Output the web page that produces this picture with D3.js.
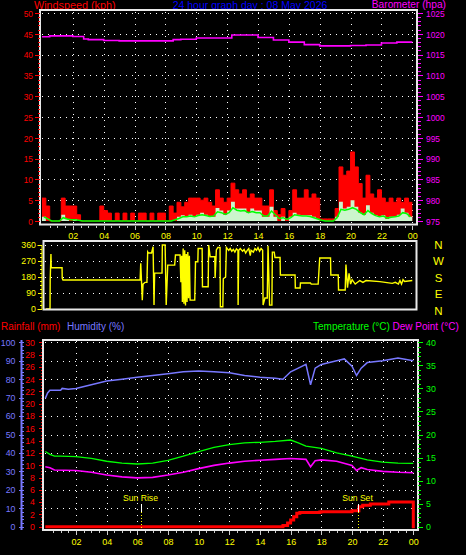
<!DOCTYPE html>
<html><head><meta charset="utf-8">
<script src="https://cdn.jsdelivr.net/npm/d3@7"></script>
<style>
body{margin:0;background:#000;}
svg{display:block;background:#000;}
</style>
</head><body>
<svg id="c" width="466" height="555"></svg>
<script>
const FONT = "'Liberation Sans', Arial, sans-serif";
// ---------- DATA ----------
const titleText = "24 hour graph day : 08 May 2026";
const hourLabels = ["02","04","06","08","10","12","14","16","18","20","22","00"];
const hourTicks = [2,4,6,8,10,12,14,16,18,20,22,24];
const windTicks = [0,5,10,15,20,25,30,35,40,45,50];
const baroTicks = [975,980,985,990,995,1000,1005,1010,1015,1020,1025];
const dirTicks = [0,90,180,270,360];
const dirLetters = ["N","W","S","E","N"];
const humTicks = [0,10,20,30,40,50,60,70,80,90,100];
const rainTicks = [0,2,4,6,8,10,12,14,16,18,20,22,24,26,28,30];
const tempTicks = [0,5,10,15,20,25,30,35,40];

// wind, one value per quarter hour (00:00 .. 23:45)
const windGust = [
5.5,3.6,0,0, 0,5.5,3.6,3.6, 3.6,1.5,0,0, 0,0,0,3.6,
2.5,1.9,0,1.9, 0,1.9,0,1.9, 0,1.9,1.9,0, 1.9,0,1.9,1.9,
0,3.6,1.9,4.5, 3.4,4.5,5.5,5.5, 5.5,5,5.5,4.5, 3.6,7.5,5.5,4.5,
5.5,9.1,7.5,6.5, 7.5,5.5,6.5,5.5, 5.5,3.6,3.6,7.5, 2.5,1.5,3,0.5,
2.5,7.5,5.5,5.5, 7.5,5.5,6.5,5.5, 0.5,0.5,0.5,0.5, 3,13,11,12,
16.6,13,9,5.5, 11,6.5,5.5,7.5, 5.5,4.5,5.5,4.5, 5.5,4.5,5.5,4.5];
const windSpeed = [
1,0,0,0, 0,1.5,0.5,0, 0.5,0,0,0, 0,0,0,0,
0,0,0,0, 0,0,0,0, 0,0,0,0, 0,0,0,0,
0,0,0,1, 1.4,1,1.5,1, 1.5,2,1.5,1, 1,3.1,2.5,1.5,
2.5,4.6,3,3, 3,2,3,2.5, 2.5,1,1,3.4, 1,0,1,0,
1,2,1.5,1.4, 1.4,1.4,1,0.5, 0,0,0,0, 1,4.6,3,3.4,
5,3.4,2,1.5, 3.8,2,1.4,1, 1.4,0.5,1,1, 1.5,3,2,1];
const windAvg = [
1,0.5,0,0, 0,0.8,0.5,0.3, 0.3,0.2,0,0, 0,0,0,0,
0,0,0,0, 0,0,0,0, 0,0,0,0, 0,0,0,0,
0,0,0.3,0.6, 1,1,1.2,1, 1.3,1.5,1.3,1.1, 1.2,2.2,2,1.6,
2,3.2,2.6,2.4, 2.5,2,2.3,2, 2,1.2,1.2,2.4, 1.5,0.6,0.8,0.4,
0.8,1.5,1.3,1.2, 1.2,1.1,0.8,0.5, 0.2,0,0,0, 0.8,2.8,2.6,2.8,
3.2,2.8,2,1.5, 2.5,1.8,1.3,1, 1.2,0.7,0.9,1, 1.2,2,1.8,1];

const baroTimes = [0,0.5,1,2,2.7,3,4,5,6,7,8,8.5,9,10,11,12.3,13,14,15,16,17,18,19,20,21,22,23,24];
const baroValues = [1019.3,1019.5,1019.5,1019.35,1018.75,1018.6,1018.4,1018.3,1018.3,1018.3,1018.3,1018.6,1018.7,1019.0,1019.0,1019.7,1019.7,1019.1,1018.5,1018.0,1017.4,1017.1,1017.1,1017.2,1017.3,1017.8,1018.0,1018.0];

const dirTimes = [0.25,0.52,0.53,0.58,0.6,1.3,1.31,1.36,6.36,6.4,6.5,6.55,6.68,6.8,6.85,6.9,7.1,7.2,7.26,7.3,7.78,7.8,7.98,8.05,8.15,8.6,8.65,8.95,9.0,9.05,9.1,9.15,9.2,9.25,9.3,9.35,9.4,9.45,9.5,9.55,9.6,9.9,9.95,10.1,10.12,10.38,10.4,10.77,10.8,10.9,11.2,11.22,11.3,11.4,11.54,11.56,11.72,11.75,11.9,11.95,12.1,12.2,12.3,12.4,12.5,12.6,12.7,12.71,12.75,12.85,13.0,13.1,13.2,13.3,13.4,13.5,13.55,13.7,13.8,13.9,14.0,14.1,14.2,14.3,14.33,14.45,14.6,14.65,14.75,14.9,14.93,15.05,15.1,15.43,15.45,16.4,16.42,16.73,16.75,17.4,17.45,17.9,18.0,18.7,18.72,19.2,19.22,19.65,19.7,19.8,19.9,20.0,20.1,20.3,20.6,20.8,21.0,21.9,22.7,22.9,23.1,23.2,23.3,23.4,23.5,24.0];
const dirValues = [0,0,159,309,232,232,174,163,163,257,50,140,150,150,322,315,315,350,22,202,202,360,360,22,247,247,304,304,150,300,40,340,30,330,20,310,40,320,60,300,50,50,266,266,340,340,125,125,360,294,294,174,332,346,346,13,13,170,180,346,330,340,325,335,320,338,330,22,330,340,325,335,315,330,340,300,330,320,340,330,345,325,340,330,22,62,62,355,22,22,320,320,290,290,191,191,118,118,146,146,140,140,287,287,191,191,107,107,250,120,200,140,165,140,160,150,160,154,144,150,140,160,140,165,155,160];

const humTimes = [0,0.15,0.3,1,1.1,1.5,2,3,4,5,6,7,8,9,10,11,12,13,14,15,15.5,16,16.5,17,17.3,17.6,18,19,19.5,20,20.3,20.6,21,22,23,24];
const humValues = [69.6,72.5,74,74,75,74.5,75,77,79,80,81,82,83,84,84.5,84,83.5,82,81,80.5,80,84,86,88,77,86,88,90,91,87,82,86,89,90,91.5,90];
const tempTimes = [0,0.3,0.6,1,2,3,4,5,6,7,8,9,10,11,12,13,14,15,16,16.5,17,18,19,20,21,22,23,24];
const tempValues = [16.3,15.7,15.3,15.3,15.2,14.8,14.2,13.8,13.6,13.8,14.4,15.3,16.3,17.2,17.8,18.2,18.3,18.5,18.8,18.2,17.5,17,16,15.3,14.5,14,13.8,13.75];
const dewTimes = [0,0.3,0.6,2,3,4,5,6,7,8,9,10,11,12,13,14,15,16,17,17.3,17.6,18,19,20,20.3,20.6,21,22,23,24];
const dewValues = [13,12.8,12.3,12.2,11.8,11.2,10.8,10.6,10.7,11.2,11.8,12.6,13.3,13.8,14.2,14.4,14.6,14.8,14.6,13.0,14.3,14.5,14.2,13.3,12.2,12.8,12.4,12.0,11.8,11.7];
const rainTimes = [0,15.3,15.5,15.8,16.0,16.2,16.4,16.6,17.9,18.0,19.9,20.0,20.4,20.45,20.7,21.2,22.4,24.0,24.0,24.1];
const rainValues = [0,0,0.2,0.6,1.1,1.6,2.2,2.3,2.4,2.45,2.45,2.6,2.6,3.25,3.5,3.7,4.0,4.0,0,0];
const sunRise = 6.22, sunSet = 20.42;

// ---------- SCALES ----------
const svg = d3.select("#c");
const xTop = d3.scaleLinear().domain([0,24]).range([42,412.3]);
const xBot = d3.scaleLinear().domain([0,24]).range([45.3,413.3]);
const yWind = d3.scaleLinear().domain([0,50]).range([221,13]);
const yBaro = d3.scaleLinear().domain([975,1025]).range([221,13]);
const yDir = d3.scaleLinear().domain([0,360]).range([309,245]);
const yHum = d3.scaleLinear().domain([0,100]).range([526.7,342.3]);
const yRain = d3.scaleLinear().domain([0,30]).range([526.7,342.3]);
const yTemp = d3.scaleLinear().domain([0,40]).range([526.7,342.3]);

const RED="#ff0000", MAG="#ff00ff", YEL="#ffff00", GRN="#00ff00", BLU="#7878ff", TITLEBLUE="#0000ff";
const intFmt = d3.format("d");

function styleAxis(g,color,fs,keepDomain){
  g.attr("font-family",FONT).attr("font-size",fs);
  if(!keepDomain) g.select(".domain").remove(); else g.select(".domain").attr("stroke",color);
  g.selectAll("line").attr("stroke",color).attr("shape-rendering","crispEdges");
  g.selectAll("text").attr("fill",color);
  return g;
}
function hGrid(scale,vals,x0,x1){
  const g=svg.append("g");
  g.selectAll("line").data(vals).join("line")
   .attr("x1",x0).attr("x2",x1).attr("y1",d=>Math.round(scale(d))+0.5).attr("y2",d=>Math.round(scale(d))+0.5)
   .attr("stroke","#ffffff").attr("stroke-dasharray","1,5").attr("shape-rendering","crispEdges");
}
function vGrid(scale,vals,y0,y1){
  const g=svg.append("g");
  g.selectAll("line").data(vals).join("line")
   .attr("y1",y0).attr("y2",y1).attr("x1",d=>Math.round(scale(d))+0.5).attr("x2",d=>Math.round(scale(d))+0.5)
   .attr("stroke","#ffffff").attr("stroke-dasharray","1,5").attr("shape-rendering","crispEdges");
}
function border(x0,y0,x1,y1){
  svg.append("rect").attr("x",x0).attr("y",y0).attr("width",x1-x0).attr("height",y1-y0)
    .attr("fill","none").attr("stroke","#e8e8e8").attr("stroke-width",2);
}
const fmtH = d=>hourLabels[hourTicks.indexOf(d)];
const halfHours = d3.range(1,48).map(i=>i/2).filter(v=>v%2!==0);

// ---------- TITLES ----------
function title(txt,x,y,color,fs,anchor){
  svg.append("text").attr("x",x).attr("y",y).attr("fill",color).attr("font-family",FONT)
    .attr("font-size",fs).attr("text-anchor",anchor||"start").text(txt);
}
title("Windspeed (kph)",34,8.5,RED,10.8);
title(titleText,250,8.5,TITLEBLUE,10.5,"middle");
title("Barometer (hpa)",446,7.6,MAG,10.2,"end");

// ---------- TOP PANEL ----------
hGrid(yWind,[5,10,15,20,25,30,35,40,45,50],42,416);
vGrid(xTop,hourTicks,12,223);

const wIdx = d3.range(97);
const wVal = (arr,i)=>arr[Math.min(i,arr.length-1)];
const gustArea = d3.area().curve(d3.curveStepAfter).x(i=>xTop(i/4)).y0(yWind(0)).y1(i=>yWind(wVal(windGust,i)));
const gustLine = d3.line().curve(d3.curveStepAfter).x(i=>xTop(i/4)).y(i=>yWind(wVal(windGust,i)));
svg.append("path").attr("d",gustArea(wIdx)).attr("fill",RED);
svg.append("path").attr("d",gustLine(wIdx)).attr("fill","none").attr("stroke",RED).attr("stroke-width",1);
const spdArea = d3.area().curve(d3.curveStepAfter).x(i=>xTop(i/4)).y0(yWind(0)).y1(i=>yWind(wVal(windSpeed,i)));
svg.append("path").attr("d",spdArea(wIdx)).attr("fill","#ccf5cc");
const avgLine = d3.line().curve(d3.curveLinear).x(i=>xTop(i/4+0.125)).y(i=>yWind(wVal(windAvg,i)));
svg.append("path").attr("d",avgLine(d3.range(96))).attr("fill","none").attr("stroke",GRN).attr("stroke-width",1.5);

const baroLine = d3.line().curve(d3.curveStepAfter).x((d,i)=>xTop(baroTimes[i])).y(d=>yBaro(d));
svg.append("path").attr("d",baroLine(baroValues)).attr("fill","none").attr("stroke",MAG).attr("stroke-width",1.6);

border(40,10,417,224.5);

const wl = styleAxis(svg.append("g").attr("transform","translate(39.5,0)")
  .call(d3.axisLeft(yWind).tickValues(windTicks).tickSize(5).tickPadding(1.5).tickFormat(intFmt)),RED,8.4);
wl.selectAll("text").attr("dy","0.38em");
styleAxis(svg.append("g").attr("transform","translate(39.5,0)")
  .call(d3.axisLeft(yWind).tickValues(d3.range(0,51)).tickSize(2).tickFormat("")),RED,8.4);
const bl = styleAxis(svg.append("g").attr("transform","translate(418,0)")
  .call(d3.axisRight(yBaro).tickValues(baroTicks).tickSize(5).tickPadding(3).tickFormat(intFmt)),MAG,8.4);
bl.selectAll("text").attr("dy","0.38em");
styleAxis(svg.append("g").attr("transform","translate(418,0)")
  .call(d3.axisRight(yBaro).tickValues(d3.range(975,1026)).tickSize(2.5).tickFormat("")),MAG,8.4);

// top time axis: ticks from the axis, labels yellow
const tx = styleAxis(svg.append("g").attr("transform","translate(0,225.5)")
  .call(d3.axisBottom(xTop).tickValues(hourTicks).tickSize(4).tickPadding(3).tickFormat(fmtH)),"#cccccc",9);
tx.selectAll("text").attr("fill",YEL);
styleAxis(svg.append("g").attr("transform","translate(0,225.5)")
  .call(d3.axisBottom(xTop).tickValues(halfHours).tickSize(2).tickFormat("")),"#cccccc",9);

// ---------- DIRECTION PANEL ----------
hGrid(yDir,dirTicks,45,415);
const dirLine = d3.line().x((d,i)=>xTop(dirTimes[i])).y(d=>yDir(d));
svg.append("path").attr("d",dirLine(dirValues)).attr("fill","none").attr("stroke",YEL).attr("stroke-width",1.4);
border(43.5,241,416.5,309.5);
styleAxis(svg.append("g").attr("transform","translate(41.5,0)")
  .call(d3.axisLeft(yDir).tickValues(dirTicks).tickSize(4).tickPadding(1.5)),YEL,8.8,true);
styleAxis(svg.append("g").attr("transform","translate(41.5,0)")
  .call(d3.axisLeft(yDir).tickValues(d3.range(0,361,22.5)).tickSize(2).tickFormat("")),YEL,8.8);
svg.append("g").selectAll("text").data(dirLetters).join("text")
  .attr("x",438.5).attr("y",(d,i)=>248.5+i*16.6).attr("text-anchor","middle")
  .attr("fill",YEL).attr("font-family",FONT).attr("font-size",11.5).text(d=>d);

// ---------- BOTTOM PANEL ----------
title("Rainfall (mm)",1,330,RED,10);
title("Humidity (%)",67,330,BLU,10);
title("Temperature (°C)",313,330,GRN,10);
title("Dew Point (°C)",392.5,330,MAG,10);

hGrid(yHum,[10,20,30,40,50,60,70,80,90,100],45,416);
vGrid(xBot,hourTicks,341,529);

const mk = (xs,ys,yScale,curve)=>d3.line().curve(curve||d3.curveLinear).x((d,i)=>xBot(xs[i])).y(d=>yScale(d));
svg.append("path").attr("d",mk(humTimes,humValues,yHum)(humValues)).attr("fill","none").attr("stroke",BLU).attr("stroke-width",1.5);
svg.append("path").attr("d",mk(tempTimes,tempValues,yTemp)(tempValues)).attr("fill","none").attr("stroke",GRN).attr("stroke-width",1.3);
svg.append("path").attr("d",mk(dewTimes,dewValues,yTemp)(dewValues)).attr("fill","none").attr("stroke",MAG).attr("stroke-width",1.6);
svg.append("path").attr("d",mk(rainTimes,rainValues,yRain,d3.curveStepAfter)(rainValues)).attr("fill","none").attr("stroke",RED).attr("stroke-width",3);

// sun rise / set markers
[[sunRise,"Sun Rise"],[sunSet,"Sun Set"]].forEach(([t,lab])=>{
  const x=Math.round(xBot(t))+0.5;
  svg.append("line").attr("x1",x).attr("x2",x).attr("y1",504).attr("y2",512).attr("stroke","#ffffff");
  svg.append("line").attr("x1",x).attr("x2",x).attr("y1",512).attr("y2",529).attr("stroke",YEL).attr("stroke-dasharray","1,2");
  svg.append("text").attr("x",x-1).attr("y",500.5).attr("text-anchor","middle").attr("fill",YEL)
    .attr("font-family",FONT).attr("font-size",8.6).text(lab);
});

border(43,340,418,530);

// humidity axis (outer)
styleAxis(svg.append("g").attr("transform","translate(21.5,0)")
  .call(d3.axisLeft(yHum).tickValues(humTicks).tickSize(3).tickPadding(3).tickFormat(intFmt)),BLU,8.8);
styleAxis(svg.append("g").attr("transform","translate(21.5,0)")
  .call(d3.axisRight(yHum).tickValues(d3.range(0,101,2)).tickSize(2).tickFormat("")),BLU,8.8);
svg.append("line").attr("x1",21.5).attr("x2",21.5).attr("y1",340).attr("y2",530).attr("stroke",BLU).attr("stroke-width",2);
// rain axis
styleAxis(svg.append("g").attr("transform","translate(42,0)")
  .call(d3.axisLeft(yRain).tickValues(rainTicks).tickSize(3).tickPadding(4).tickFormat(intFmt)),RED,8.8);
styleAxis(svg.append("g").attr("transform","translate(42,0)")
  .call(d3.axisLeft(yRain).tickValues(d3.range(0,30.1,0.5)).tickSize(1.5).tickFormat("")),RED,8.8);
// temperature axis
styleAxis(svg.append("g").attr("transform","translate(418,0)")
  .call(d3.axisRight(yTemp).tickValues(tempTicks).tickSize(5).tickPadding(3).tickFormat(intFmt)),GRN,8.8);
styleAxis(svg.append("g").attr("transform","translate(418,0)")
  .call(d3.axisRight(yTemp).tickValues(d3.range(0,41)).tickSize(2.5).tickFormat("")),GRN,8.8);
// bottom time axis
const bx = styleAxis(svg.append("g").attr("transform","translate(0,530.5)")
  .call(d3.axisBottom(xBot).tickValues(hourTicks).tickSize(4).tickPadding(4.5).tickFormat(fmtH)),"#cccccc",9);
bx.selectAll("text").attr("fill",YEL);
styleAxis(svg.append("g").attr("transform","translate(0,530.5)")
  .call(d3.axisBottom(xBot).tickValues(halfHours).tickSize(2).tickFormat("")),"#cccccc",9);
</script>
</body></html>
